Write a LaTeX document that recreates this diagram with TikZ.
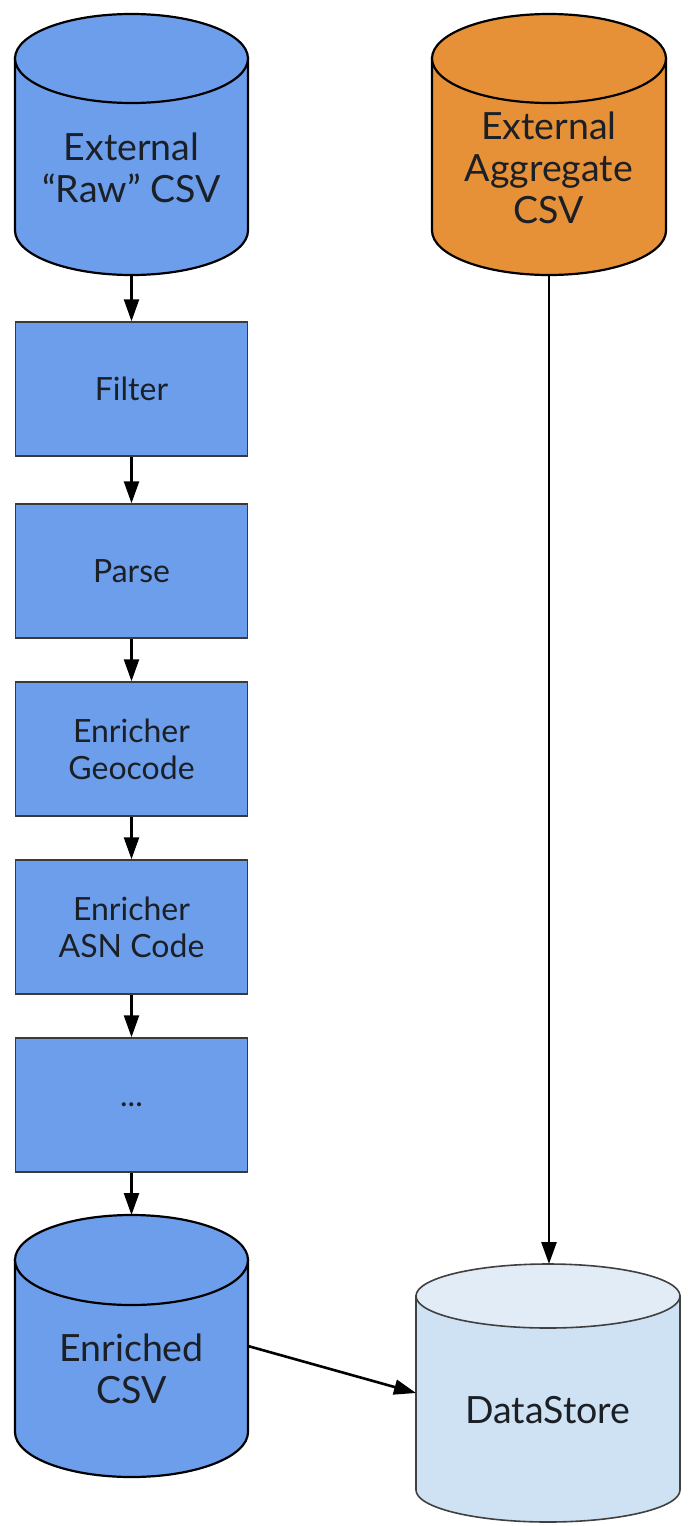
\documentclass[tikz,border=0pt]{standalone}
\usepackage{fontspec}
\setmainfont{Lato}
\usetikzlibrary{arrows.meta}

\definecolor{procblue}{HTML}{6D9EEB}
\definecolor{aggorange}{HTML}{E69138}
\definecolor{storebody}{HTML}{CFE2F3}
\definecolor{storetop}{HTML}{E1ECF7}
\definecolor{inkdark}{HTML}{1B1F26}
\definecolor{boxline}{HTML}{3A3A3A}
\definecolor{storeline}{HTML}{404040}

% Cylinder: #1 name, #2 centre x, #3 top y, #4 bottom y, #5 x radius, #6 y radius,
% #7 body style, #8 lid style
\newcommand{\drum}[8]{%
  \path[#7] (#2-#5,#3+#6) -- (#2-#5,#4-#6)
     arc[start angle=180,end angle=0,x radius=#5,y radius=#6]
     -- (#2+#5,#3+#6) -- cycle;
  \path[#8] (#2,#3+#6) ellipse[x radius=#5,y radius=#6];
  \node[inner sep=0pt,outer sep=0pt,minimum width={2*#5},minimum height={#4-#3}]
     (#1) at (#2,{(#3+#4)/2}) {};
}

\tikzset{
  procbox/.style={draw=boxline,line width=1.5pt,fill=procblue,
    minimum width=232pt,minimum height=134pt,inner sep=0pt,
    text=inkdark,align=center,font=\fontsize{32}{37}\selectfont},
  drumtext/.style={text=inkdark,align=center,inner sep=0pt,
    font=\fontsize{37.5}{42}\selectfont},
  bluebody/.style={fill=procblue,draw=black,line width=2.2pt},
  orangebody/.style={fill=aggorange,draw=black,line width=2.2pt},
  storebodystyle/.style={fill=storebody,draw=storeline,line width=1.6pt},
  storelidstyle/.style={fill=storetop,draw=storeline,line width=1.6pt},
  flow/.style={draw=black,line width=2.6pt,
    -{Triangle[length=22pt,width=15pt]}},
}

\begin{document}
\begin{tikzpicture}[x=1pt,y=-1pt]
  \useasboundingbox[fill=white] (0,0) rectangle (691,1526);

  % sources
  \drum{raw}{131.5}{14}{275}{116.5}{44.5}{bluebody}{bluebody}
  \node[drumtext] (rawlabel) at (131.5,167.5) {External\\“Raw” CSV};

  \drum{agg}{549}{14}{275}{117}{44.5}{orangebody}{orangebody}
  \node[drumtext] (agglabel) at (549,167.5) {External\\Aggregate\\CSV};

  % processing chain
  \node[procbox] (filter) at (131.5,389) {Filter};
  \node[procbox] (parse) at (131.5,571) {Parse};
  \node[procbox] (geo) at (131.5,749) {Enricher\\Geocode};
  \node[procbox] (asn) at (131.5,927) {Enricher\\ASN Code};
  \node[procbox] (more) at (131.5,1105) {...};

  % outputs
  \drum{enr}{131.5}{1215}{1477}{116.5}{45}{bluebody}{bluebody}
  \node[drumtext] (enrlabel) at (131.5,1369) {Enriched\\CSV};

  \drum{ds}{548}{1264}{1522}{132}{32}{storebodystyle}{storelidstyle}
  \node[drumtext] (dslabel) at (548,1410) {DataStore};

  % connectors
  \draw[flow] (raw.south) -- (filter.north);
  \draw[flow] (filter.south) -- (parse.north);
  \draw[flow] (parse.south) -- (geo.north);
  \draw[flow] (geo.south) -- (asn.north);
  \draw[flow] (asn.south) -- (more.north);
  \draw[flow] (more.south) -- (enr.north);
  \draw[flow] (agg.south) -- (agg.south |- ds.north);
  \draw[flow] (enr.east) -- (ds.west);
\end{tikzpicture}
\end{document}
